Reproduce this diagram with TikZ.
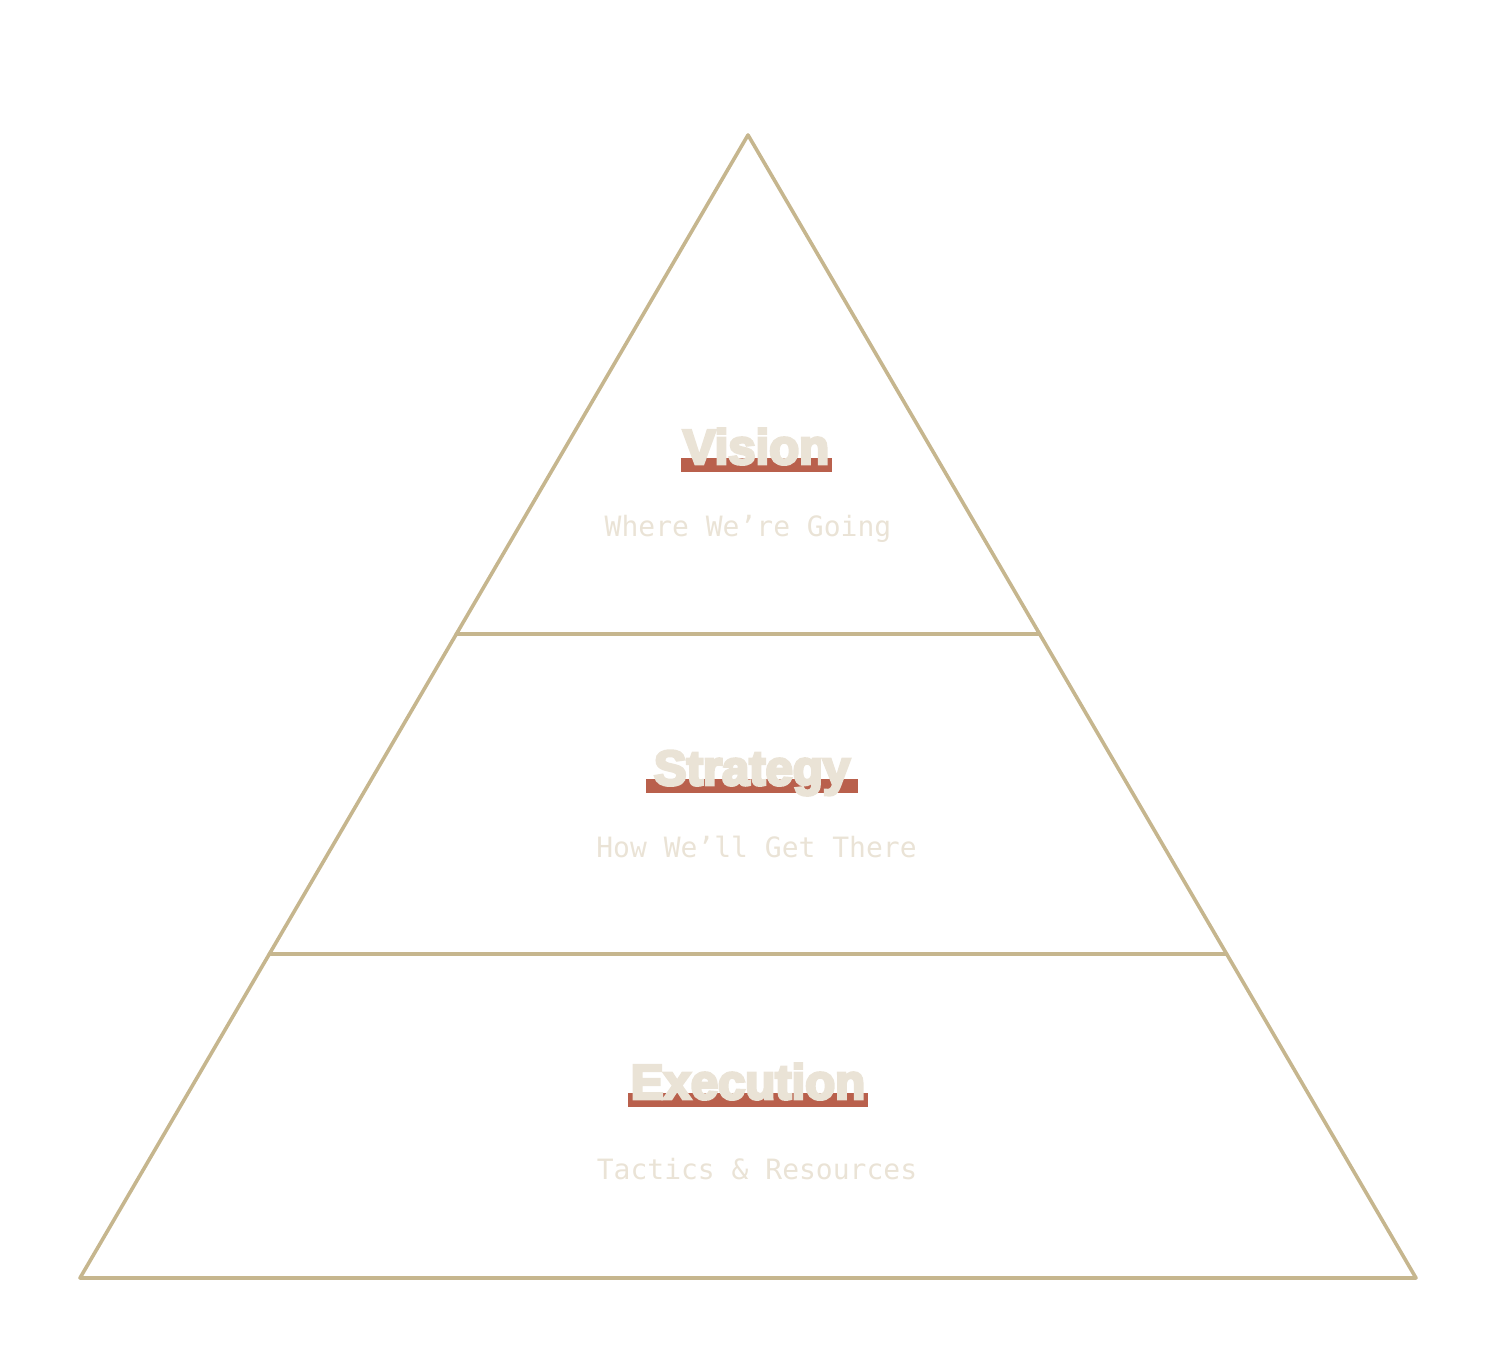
\documentclass[tikz,border=0pt]{standalone}
\usepackage{fontspec}
\newfontfamily\titlefont{Liberation Sans}[BoldFeatures={FakeBold=6}]
\newfontfamily\subfont{DejaVu Sans Mono}
\definecolor{stroke}{HTML}{C6B68E}
\definecolor{lighttext}{HTML}{EAE3D6}
\definecolor{barred}{HTML}{B9604C}
\begin{document}
\begin{tikzpicture}[x=1pt,y=-1pt,
  edge/.style={draw=stroke,line width=3.6pt,line join=round,line cap=round},
  title/.style={anchor=base,inner sep=0pt,text=lighttext,font=\titlefont\bfseries\fontsize{49}{49}\selectfont},
  subtitle/.style={anchor=base,inner sep=0pt,text=lighttext,font=\subfont\fontsize{28}{28}\selectfont},
  bar/.style={fill=barred,draw=none}]
\useasboundingbox (0,0) rectangle (1496,1362);
% pyramid
\coordinate (apex) at (748,135);
\coordinate (bl) at (80,1278);
\coordinate (br) at (1416,1278);
\coordinate (d1l) at (456.4,634);
\coordinate (d1r) at (1039.6,634);
\coordinate (d2l) at (269.4,954);
\coordinate (d2r) at (1226.6,954);
\draw[edge] (apex) -- (bl) -- (br) -- cycle;
\draw[edge] (d1l) -- (d1r);
\draw[edge] (d2l) -- (d2r);
% bars
\fill[bar] (681,458) rectangle (832,472);
\fill[bar] (646,779) rectangle (858,793);
\fill[bar] (628,1093) rectangle (868,1107);
% titles
\node[title] (vision) at (756,464) {Vision};
\node[title] (strategy) at (752,785) {Strategy};
\node[title] (execution) at (748,1099) {Execution};
% subtitles
\node[subtitle] (vsub) at (748,536) {Where We’re Going};
\node[subtitle] (ssub) at (756.5,857) {How We’ll Get There};
\node[subtitle] (esub) at (757,1179) {Tactics \& Resources};
\end{tikzpicture}
\end{document}
